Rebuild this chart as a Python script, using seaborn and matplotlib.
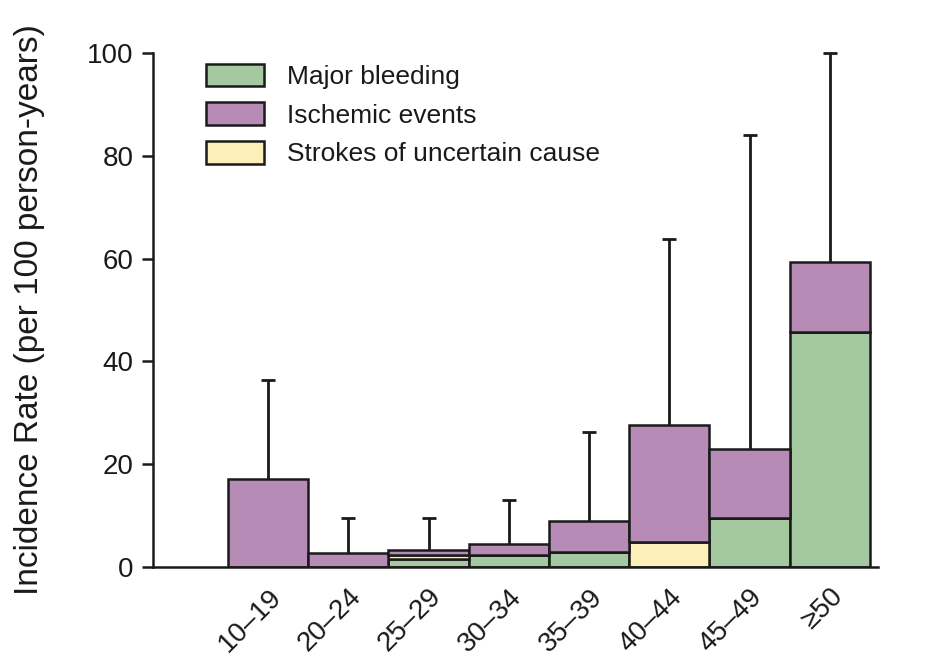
import numpy as np
import pandas as pd
import matplotlib
matplotlib.use("Agg")
import matplotlib.pyplot as plt
import seaborn as sns
from matplotlib.patches import Patch

# Age groups and incidence rates (per 100 person-years)
groups = ["10–19", "20–24", "25–29", "30–34", "35–39", "40–44", "45–49", "≥50"]
major_bleeding = [0.0, 0.0, 1.5, 2.4, 2.9, 0.0, 9.6, 45.7]
uncertain_stroke = [0.0, 0.0, 0.9, 0.0, 0.0, 4.8, 0.0, 0.0]
ischemic_events = [17.1, 2.8, 1.0, 2.0, 6.0, 22.8, 13.3, 13.6]
upper_ci = [36.4, 9.5, 9.5, 13.0, 26.2, 63.9, 84.0, 100.0]

c_green = "#a4c9a0"
c_purple = "#b68cb6"
c_yellow = "#fdefb8"
ink = "#1a1a1a"
lw = 1.8

sns.set_style("ticks")
plt.rcParams["font.family"] = ["Liberation Sans", "DejaVu Sans"]

fig = plt.figure(figsize=(9.29, 6.69), dpi=100)
ax = fig.add_axes([0.1647, 0.1525, 0.7803, 0.7683])

df = pd.DataFrame({
    "group": groups,
    "bleeding": major_bleeding,
    "uncertain": uncertain_stroke,
    "ischemic": ischemic_events,
})
b1 = np.array(major_bleeding)
b2 = b1 + np.array(uncertain_stroke)
total = b2 + np.array(ischemic_events)

common = dict(order=groups, width=1.0, edgecolor=ink, linewidth=lw, ax=ax,
              saturation=1, errorbar=None)
sns.barplot(data=df, x="group", y="bleeding", color=c_green, **common)
sns.barplot(data=df, x="group", y="uncertain", bottom=b1, color=c_yellow, **common)
sns.barplot(data=df, x="group", y="ischemic", bottom=b2, color=c_purple, **common)

# one-sided upper confidence limits
err = ax.errorbar(np.arange(len(groups)), total,
                  yerr=[np.zeros(len(groups)), np.array(upper_ci) - total],
                  fmt="none", ecolor=ink, elinewidth=2.0, capsize=5,
                  capthick=2.0, clip_on=False, zorder=5)
err[1][0].set_visible(False)

ax.set_ylim(0, 100)
ax.set_xlim(-1.435, 7.6)
ax.set_yticks([0, 20, 40, 60, 80, 100])
ax.set_xlabel("")
ax.set_ylabel("Incidence Rate (per 100 person-years)", fontsize=24, color=ink, labelpad=30)
ax.tick_params(axis="y", labelsize=20, length=8, width=lw, colors=ink, pad=6)
ax.tick_params(axis="x", length=0, labelsize=20, pad=12, colors=ink)
for lab in ax.get_xticklabels():
    lab.set_rotation(45)
    lab.set_ha("right")
    lab.set_rotation_mode("anchor")
for s in ["top", "right"]:
    ax.spines[s].set_visible(False)
for s in ["left", "bottom"]:
    ax.spines[s].set_linewidth(lw)
    ax.spines[s].set_color(ink)

handles = [
    Patch(facecolor=c_green, edgecolor=ink, linewidth=lw, label="Major bleeding"),
    Patch(facecolor=c_purple, edgecolor=ink, linewidth=lw, label="Ischemic events"),
    Patch(facecolor=c_yellow, edgecolor=ink, linewidth=lw, label="Strokes of uncertain cause"),
]
leg = ax.legend(handles=handles, loc="upper left", bbox_to_anchor=(0.058, 1.0), frameon=False,
                fontsize=19, handlelength=2.2, handleheight=0.95, handletextpad=0.9,
                labelspacing=0.5, borderaxespad=0)
for t in leg.get_texts():
    t.set_color(ink)

fig.savefig("out.png", dpi=100, facecolor="white")
